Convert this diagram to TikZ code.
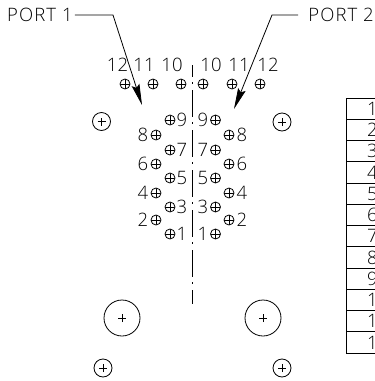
\documentclass[tikz,border=0pt]{standalone}
\usepackage{fontspec}
\setmainfont{Open Sans Light}
\usetikzlibrary{arrows.meta}
\tikzset{
  lbl/.style={inner sep=0pt,font=\fontsize{18.5}{18.5}\selectfont},
  port/.style={inner sep=0pt,font=\fontsize{18.5}{18.5}\selectfont\addfontfeature{LetterSpace=6}},
  hole/.style={circle,draw,line width=0.8pt,minimum size=10pt,inner sep=0pt,
    path picture={\draw[line width=0.7pt] (path picture bounding box.west)--(path picture bounding box.east)
       (path picture bounding box.north)--(path picture bounding box.south);}},
  mount/.style={circle,draw,line width=0.8pt,inner sep=0pt,
    path picture={\draw[line width=0.8pt] ([xshift=-4pt]path picture bounding box.center)--([xshift=4pt]path picture bounding box.center)
       ([yshift=-4pt]path picture bounding box.center)--([yshift=4pt]path picture bounding box.center);}},
  leader/.style={line width=0.8pt,-{Stealth[length=21pt,width=8pt,inset=3pt]}},
  axis/.style={line width=0.8pt,dash pattern=on 27pt off 5pt on 2pt off 6pt},
  tbl/.style={line width=1pt},
}
\begin{document}
\begin{tikzpicture}[x=1pt,y=-1pt]
\useasboundingbox (0,0) rectangle (375,381);
% labels and leaders
\node[port,anchor=west] (p1) at (7,15) {PORT 1};
\node[port,anchor=east] (p2) at (374,15) {PORT 2};
\coordinate (b1) at (113,15);
\coordinate (t1) at (142,105);
\coordinate (b2) at (272,15);
\coordinate (t2) at (234,109);
\draw[leader] ([xshift=2pt]p1.east) -- (b1) -- (t1);
\draw[leader] ([xshift=-10pt]p2.west) -- (b2) -- (t2);
% axis
\coordinate (a0) at (192.5,65);
\coordinate (a1) at (192.5,304);
\draw[axis,dash phase=15pt] (a0) -- (a1);
% top row
\foreach \n/\x/\lx in {12/125/117.5,11/153/144,10/181/172}{
  \node[hole] (hl\n) at (\x,84) {};
  \node[lbl] (tl\n) at (\lx,65) {\n};
}
\foreach \n/\x/\lx in {10/203/211,11/232/239,12/260/268}{
  \node[hole] (hr\n) at (\x,84) {};
  \node[lbl] (tr\n) at (\lx,65) {\n};
}
% inner odd column
\foreach \n/\y in {9/120,7/150,5/178,3/207,1/234}{
  \node[hole] (hl\n) at (170,\y) {};
  \node[lbl] (tl\n) at (182,\y) {\n};
  \node[hole] (hr\n) at (215.5,\y) {};
  \node[lbl] (tr\n) at (203,\y) {\n};
}
% outer even column
\foreach \n/\y in {8/135,6/164,4/193,2/220}{
  \node[hole] (hl\n) at (156,\y) {};
  \node[lbl] (tl\n) at (143,\y) {\n};
  \node[hole] (hr\n) at (229,\y) {};
  \node[lbl] (tr\n) at (242,\y) {\n};
}
% mounting holes
\node[mount,minimum size=18pt] (m1) at (101.5,121.5) {};
\node[mount,minimum size=18pt] (m2) at (282,122) {};
\node[mount,minimum size=18pt] (m3) at (103,368) {};
\node[mount,minimum size=18pt] (m4) at (282,368) {};
\node[mount,minimum size=36pt] (m5) at (122,318) {};
\node[mount,minimum size=36pt] (m6) at (263,318) {};
% table
\begin{scope}
\clip (340,90) rectangle (375,360);
\draw[tbl] (346,98) rectangle (400,353);
\foreach \n in {1,...,11}{
  \draw[tbl] (346,{98+\n*21.25}) -- (400,{98+\n*21.25});
}
\foreach \n in {1,...,12}{
  \node[lbl,anchor=west] (r\n) at (367,{98+(\n-0.5)*21.25}) {\n};
}
\end{scope}
\end{tikzpicture}
\end{document}
